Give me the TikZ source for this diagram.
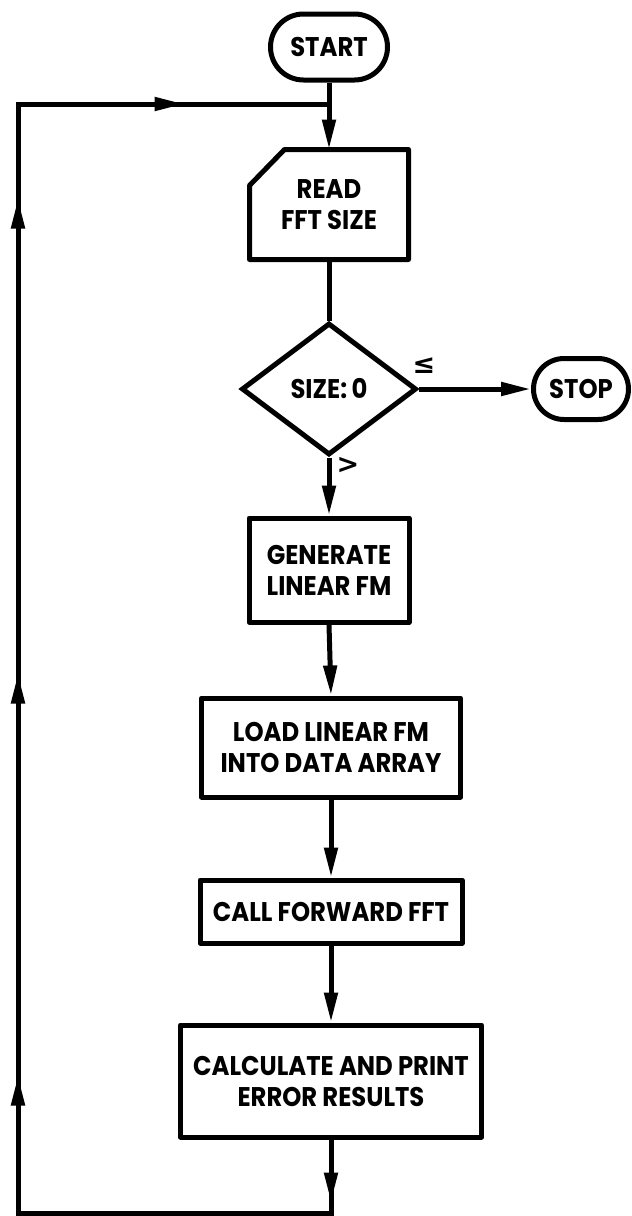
\documentclass[tikz,border=0pt]{standalone}
\usepackage{fontspec}
\setmainfont{Poppins}[FakeStretch=0.9]
\newfontfamily\djv{DejaVu Sans}
\usetikzlibrary{arrows.meta,shapes.geometric,shapes.misc,decorations.markings}
\tikzset{
  every path/.style={line width=5pt},
  txt/.style={font=\fontsize{27}{31}\selectfont\bfseries, align=center, inner sep=0pt},
  procbox/.style={txt, draw, rectangle, line join=round},
  termbox/.style={txt, draw, rounded rectangle},
  decbox/.style={txt, draw, diamond},
  lbl/.style={txt, font=\fontsize{27}{27}\selectfont\djv\bfseries},
  arr/.style={-{Triangle[length=30pt,width=13pt]}},
  looppath/.style={postaction={decorate}, decoration={markings,
    mark=at position 63pt with {\arrow{Triangle[length=30pt,width=13pt]}},
    mark=at position 524pt with {\arrow{Triangle[length=30pt,width=13pt]}},
    mark=at position 926pt with {\arrow{Triangle[length=30pt,width=13pt]}},
    mark=at position 1401pt with {\arrow{Triangle[length=30pt,width=13pt]}},
    mark=at position 1662pt with {\arrow{Triangle[length=30pt,width=13pt]}}}},
}
\begin{document}
\begin{tikzpicture}[x=1pt,y=-1pt]
\useasboundingbox[fill=white] (0,0) rectangle (632,1216);

\node[termbox, minimum width=117pt, minimum height=66pt] (start) at (329,47) {START};
\node[txt, minimum width=154pt, minimum height=105pt] (read) at (329,204.5) {READ\\FFT SIZE};
\draw[line join=round] ([xshift=35pt]read.north west) -- (read.north east) -- (read.south east)
  -- (read.south west) -- ([yshift=-36pt]read.north west) -- cycle;
\node[decbox, minimum width=175pt, minimum height=132pt] (dec) at (329,389) {SIZE:\,0};
\node[termbox, minimum width=95pt, minimum height=61pt] (stop) at (581,389) {STOP};
\node[lbl] (le) at (424,366) {≤};
\node[lbl] (gt) at (348,465) {>};
\node[procbox, minimum width=160pt, minimum height=104pt] (gen) at (329,570) {GENERATE\\LINEAR FM};
\node[procbox, minimum width=259pt, minimum height=99pt] (load) at (331,747.5) {LOAD LINEAR FM\\INTO DATA ARRAY};
\node[procbox, minimum width=262pt, minimum height=63pt] (call) at (331,911.5) {CALL FORWARD FFT};
\node[procbox, minimum width=301pt, minimum height=112pt] (calc) at (331,1081) {CALCULATE AND PRINT\\ERROR RESULTS};
\coordinate (b) at (calc.south |- 0,1213);
\coordinate (lb) at (18,1213);
\coordinate (lt) at (18,104);
\coordinate (j2) at (read.north |- 0,104);

\draw (start.south) -- (j2);
\draw[arr] (j2) -- (read.north);
\draw (read.south) -- (dec.north);
\draw[arr] (dec.east) -- (stop.west);
\draw[arr] (dec.south) -- (gen.north);
\draw[arr] (gen.south) -- (load.north);
\draw[arr] (load.south) -- (call.north);
\draw[arr] (call.south) -- (calc.north);
\draw[looppath, line join=miter] (calc.south) -- (b) -- (lb) -- (lt) -- (j2);
\end{tikzpicture}
\end{document}
